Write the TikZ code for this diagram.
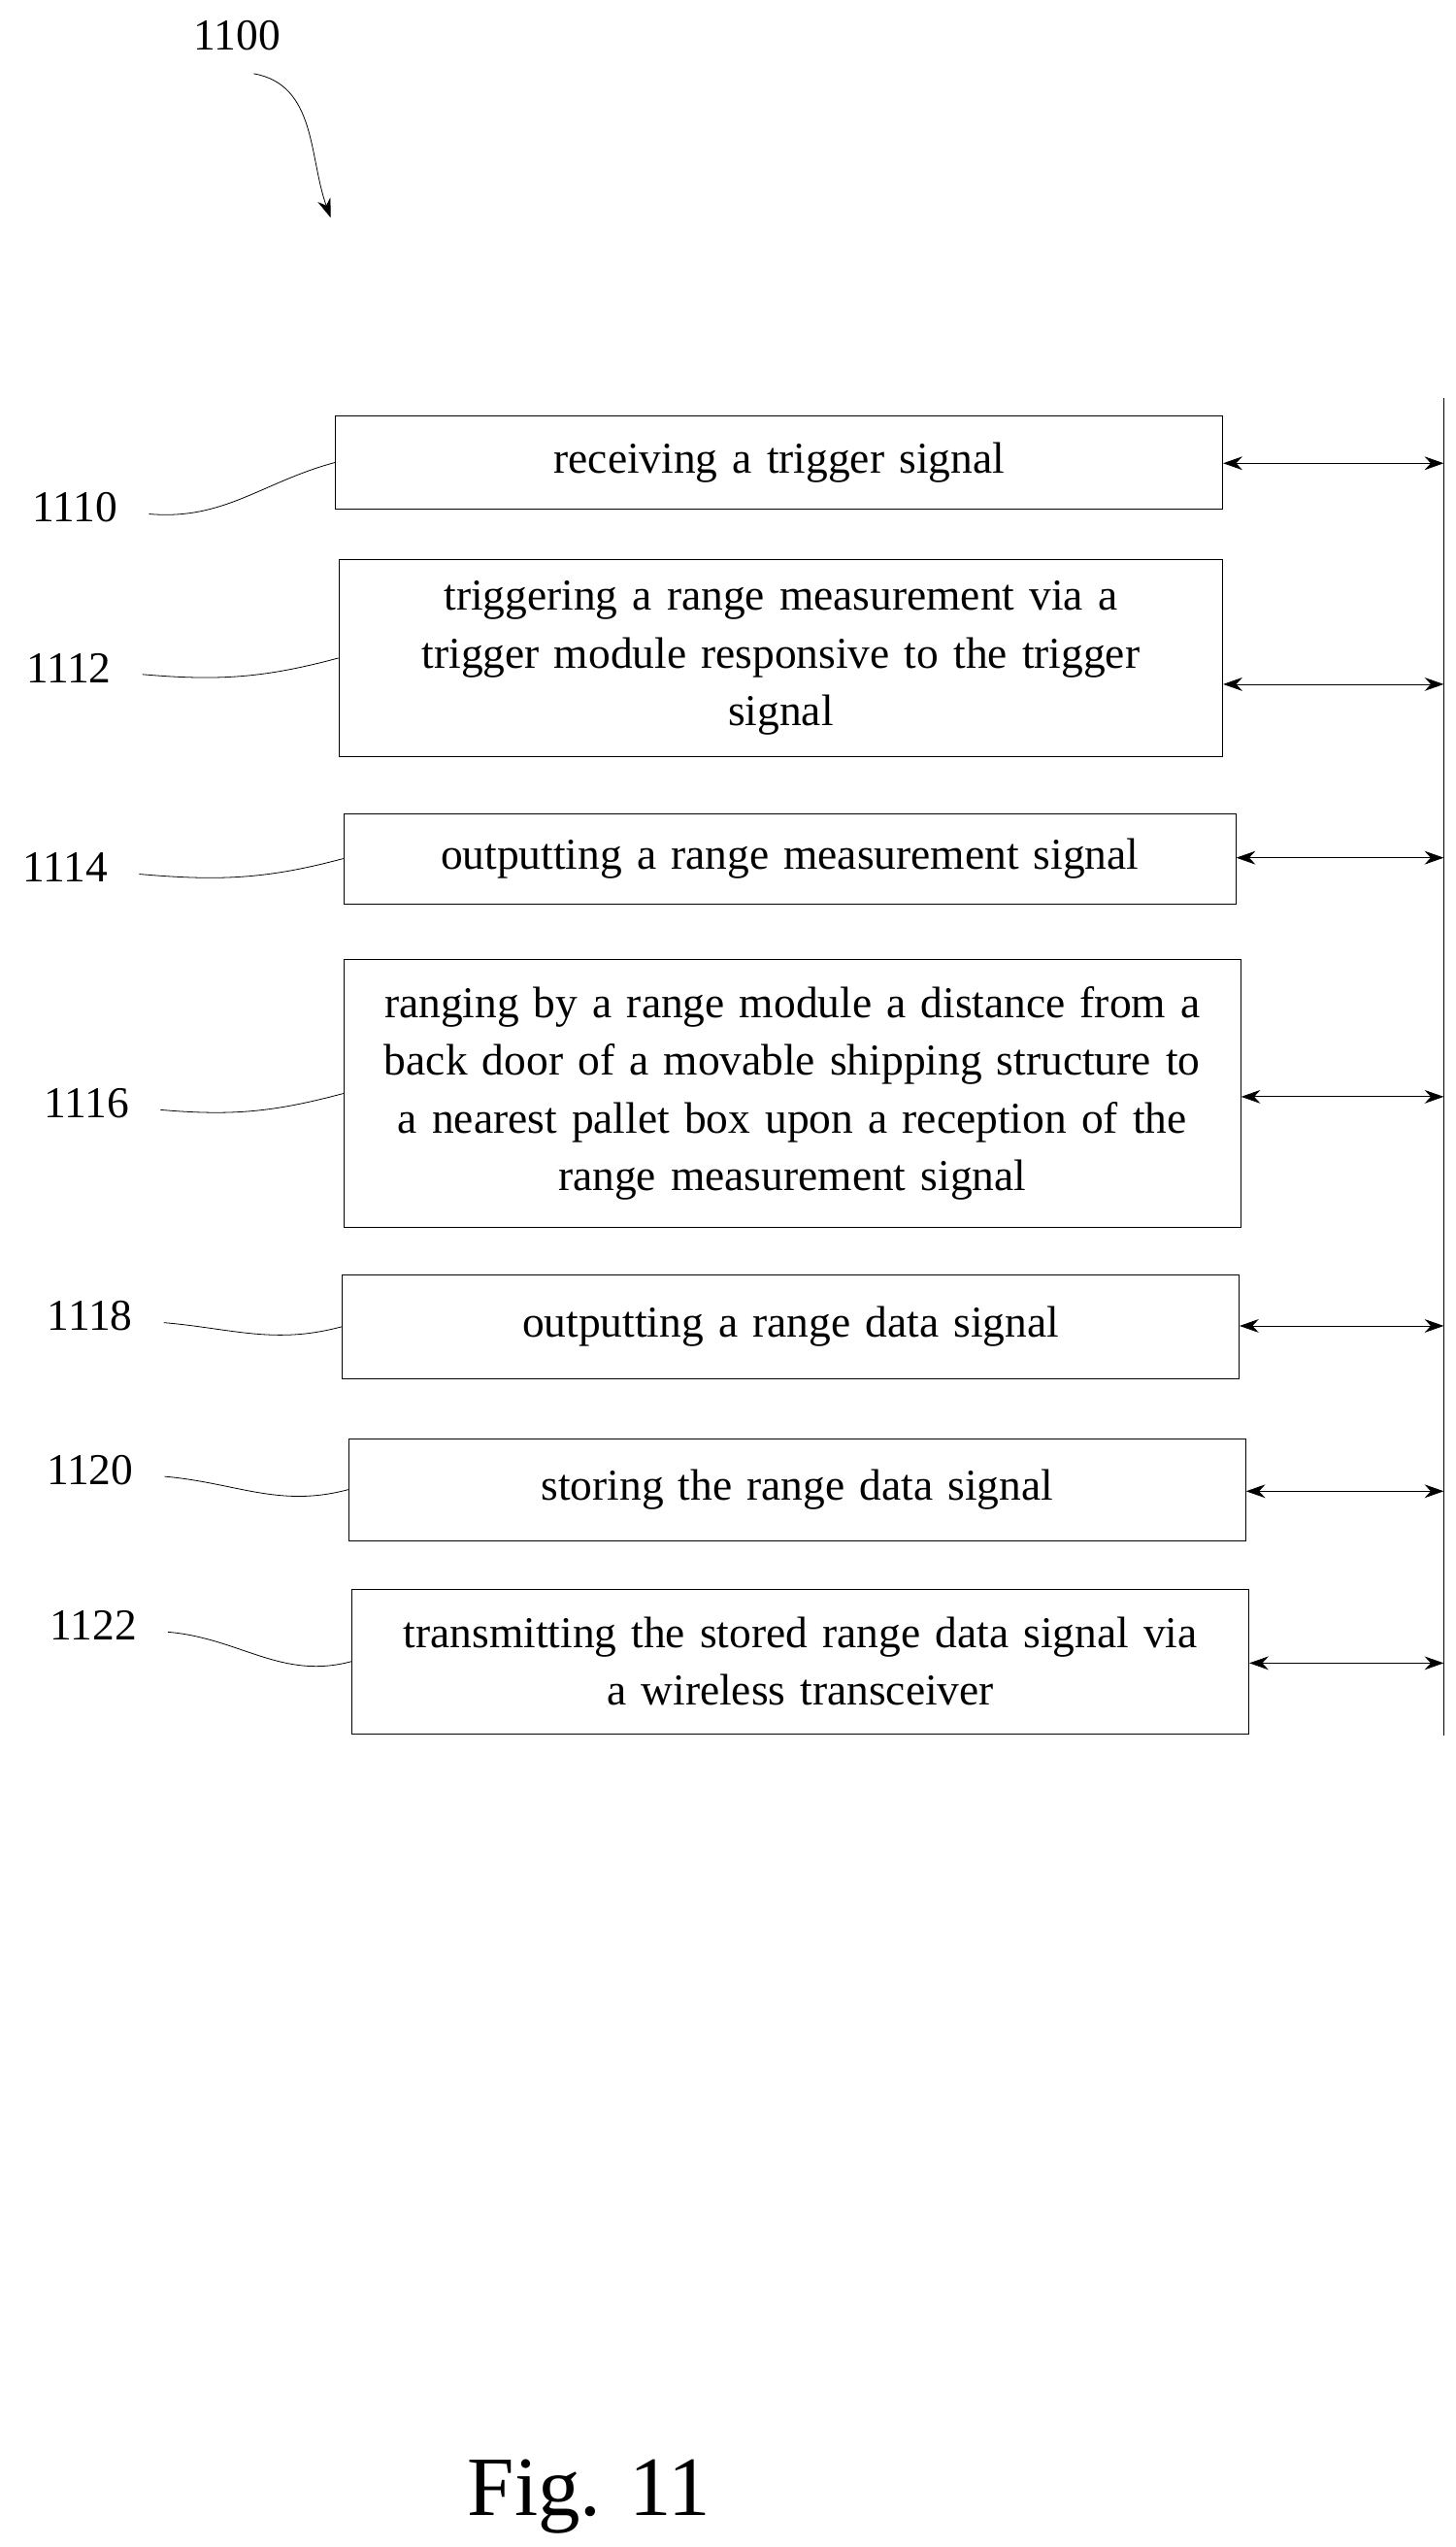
\documentclass[tikz,border=0pt]{standalone}
\usepackage{fontspec}
\setmainfont{Liberation Serif}
\usetikzlibrary{arrows.meta}
\begin{document}
\begin{tikzpicture}[x=0.03cm,y=-0.03cm,
 stepbox/.style={rectangle,draw,align=center,text width=15.4cm,inner sep=2pt,font=\fontsize{23}{30}\selectfont},
 num/.style={font=\fontsize{23}{28}\selectfont},
 link/.style={<->,>={Stealth[length=10pt,width=7pt]}}]
 \useasboundingbox (0,0) rectangle (889,1556);
 \node[num] (top) at (145,22) {1100};
 \draw[->,>={Stealth[length=10pt,width=7pt]}] (155,45) to[out=-10,in=110] (202,133);

 \node[stepbox,minimum width=542*0.03cm,minimum height=57*0.03cm] (b1) at (476,282.5) {receiving a trigger signal};
 \node[stepbox,minimum width=540*0.03cm,minimum height=120*0.03cm] (b2) at (477,402) {triggering a range measurement via a\\ trigger module responsive to the trigger\\ signal};
 \node[stepbox,minimum width=545*0.03cm,minimum height=55*0.03cm] (b3) at (482.5,524.5) {outputting a range measurement signal};
 \node[stepbox,minimum width=548*0.03cm,minimum height=164*0.03cm] (b4) at (484,668) {ranging by a range module a distance from a\\ back door of a movable shipping structure to\\ a nearest pallet box upon a reception of the\\ range measurement signal};
 \node[stepbox,minimum width=548*0.03cm,minimum height=63*0.03cm] (b5) at (483,810.5) {outputting a range data signal};
 \node[stepbox,minimum width=548*0.03cm,minimum height=62*0.03cm] (b6) at (487,910) {storing the range data signal};
 \node[stepbox,minimum width=548*0.03cm,minimum height=88*0.03cm] (b7) at (489,1015) {transmitting the stored range data signal via\\ a wireless transceiver};

 % bus line
 \coordinate (bt) at (882,243);
 \coordinate (bb) at (882,1060);
 \draw (bt) -- (bb);

 \node[num] (n1) at (46,310) {1110};
 \node[num] (n2) at (42,408) {1112};
 \node[num] (n3) at (40,530) {1114};
 \node[num] (n4) at (53,674) {1116};
 \node[num] (n5) at (55,804) {1118};
 \node[num] (n6) at (55,898) {1120};
 \node[num] (n7) at (57,993) {1122};

 \foreach \i/\y in {1/283,2/418,3/524,4/670,5/810,6/911,7/1016} {
  \coordinate (p\i) at (882,\y);
  \draw[link] (b\i.east |- p\i) -- (p\i);
  \draw (n\i.east) ++(15,4) to[out=-5,in=195] (b\i.west);
 }

 \node[font=\fontsize{44}{50}\selectfont] (fig) at (360,1525) {Fig. 11};
\end{tikzpicture}
\end{document}
